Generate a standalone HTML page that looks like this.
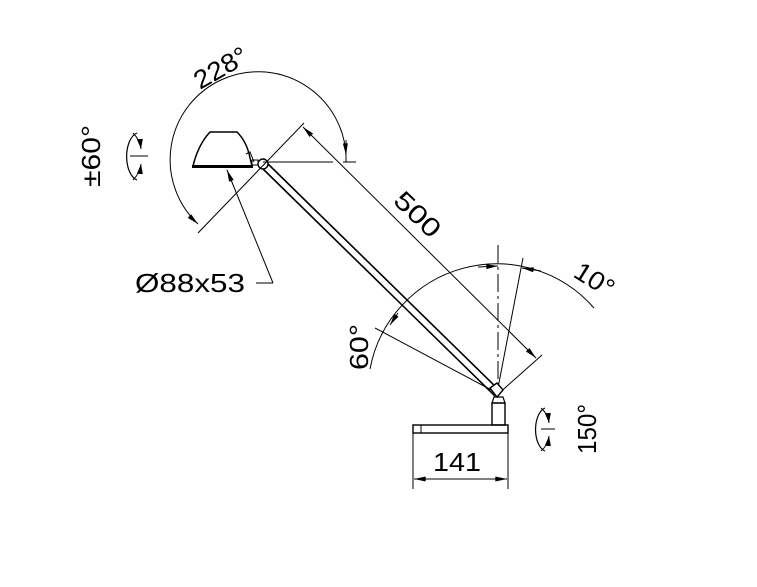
<!DOCTYPE html>
<html><head><style>
html,body{margin:0;padding:0;background:#fff;}
svg{display:block;}
text{font-family:"Liberation Sans",Arial,sans-serif;fill:#000;}
</style></head><body>
<svg width="757" height="587" viewBox="0 0 757 587" xmlns="http://www.w3.org/2000/svg">
<defs>
<marker id="a" viewBox="0 0 10 6" refX="10" refY="3" markerWidth="10" markerHeight="6" orient="auto" markerUnits="userSpaceOnUse"><path d="M0,0 L10,3 L0,6 z" fill="#000"/></marker>
<marker id="b" viewBox="0 0 14 6" refX="14" refY="3" markerWidth="14" markerHeight="5" orient="auto-start-reverse" markerUnits="userSpaceOnUse"><path d="M0,0 L14,3 L0,6 z" fill="#000"/></marker>
</defs>
<g stroke="#000" fill="none" stroke-width="1">
<line x1="265" y1="161" x2="499" y2="390" stroke-width="1.6"/>
<line x1="261" y1="167" x2="495" y2="396" stroke-width="1.6"/>
<path d="M193,166 Q198,145 210,132 L237,132 Q247,142 250,158 L252,166 Z" stroke-width="1.5"/>
<line x1="192" y1="166.5" x2="253" y2="166.5" stroke-width="3"/>
<path d="M246,154 L250,152 L254,162" stroke-width="1"/>
<rect x="252" y="160" width="6" height="5" stroke-width="1"/>
<circle cx="263" cy="164" r="5" fill="#fff" stroke-width="1.4"/>
<line x1="263" y1="162" x2="333" y2="162"/>
<line x1="343" y1="162" x2="356" y2="162"/>
<line x1="346" y1="140" x2="346" y2="162"/>
<path d="M346,155 A88,88 0 1 0 198,224" marker-start="url(#b)" marker-end="url(#b)"/>
<line x1="198" y1="233" x2="304" y2="123"/>
<line x1="542" y1="355" x2="497" y2="395"/>
<line x1="303" y1="127" x2="536" y2="358" marker-start="url(#b)" marker-end="url(#b)"/>
<line x1="273" y1="283" x2="227" y2="170" marker-end="url(#b)"/>
<line x1="256" y1="283" x2="273" y2="283"/>
<path d="M137,133 A13,24 0 0 0 137,180" stroke-width="1.2"/>
<path d="M133,133 Q140,140 141,149" marker-end="url(#a)"/>
<path d="M133,180 Q140,173 141,164" marker-end="url(#a)"/>
<line x1="130" y1="156" x2="148" y2="156"/>
<line x1="498" y1="245" x2="498" y2="395" stroke-dasharray="18,4,3,4"/>
<line x1="497" y1="393" x2="523" y2="258"/>
<line x1="497" y1="393" x2="375" y2="328"/>
<path d="M370,369 A129,129 0 0 1 594,308"/>
<line x1="478" y1="267" x2="498" y2="266" marker-end="url(#b)"/>
<line x1="541" y1="271" x2="522" y2="268" marker-end="url(#b)"/>
<line x1="398" y1="313" x2="390" y2="325" marker-end="url(#b)"/>
<path d="M490,388 L497,383 L503,390 L497,397 Z" stroke-width="1.4" fill="#fff"/>
<rect x="492" y="403" width="13" height="22" stroke-width="1.4"/>
<path d="M494,397 L503,397 L505,403 L492,403 Z" stroke-width="1.2"/>
<rect x="413" y="425" width="95" height="8" stroke-width="1.4"/>
<line x1="421" y1="425" x2="421" y2="433"/>
<line x1="413" y1="433" x2="413" y2="489"/>
<line x1="508" y1="433" x2="508" y2="489"/>
<line x1="414" y1="479" x2="507" y2="479" marker-start="url(#b)" marker-end="url(#b)"/>
<path d="M545,408 A12,22 0 0 0 545,451" stroke-width="1.2"/>
<path d="M541,408 Q548,414 549,423" marker-end="url(#a)"/>
<path d="M541,451 Q548,445 549,436" marker-end="url(#a)"/>
<line x1="541" y1="429" x2="555" y2="429"/>
</g>
<g font-size="26">
<text x="0" y="0" transform="translate(200,90) rotate(-30)" textLength="58" lengthAdjust="spacingAndGlyphs">228°</text>
<text x="0" y="0" transform="translate(100,187) rotate(-90)" textLength="62" lengthAdjust="spacingAndGlyphs">±60°</text>
<text x="0" y="0" transform="translate(392,202) rotate(44)" textLength="54" lengthAdjust="spacingAndGlyphs">500</text>
<text x="135" y="292" textLength="110" lengthAdjust="spacingAndGlyphs">Ø88x53</text>
<text x="0" y="0" transform="translate(368,370) rotate(-90)" textLength="46" lengthAdjust="spacingAndGlyphs">60°</text>
<text x="0" y="0" transform="translate(572,276) rotate(32)" textLength="42" lengthAdjust="spacingAndGlyphs">10°</text>
<text x="0" y="0" transform="translate(596,454) rotate(-90)" textLength="50" lengthAdjust="spacingAndGlyphs">150°</text>
<text x="433" y="471" textLength="48" lengthAdjust="spacingAndGlyphs">141</text>
</g>
</svg>
</body></html>
